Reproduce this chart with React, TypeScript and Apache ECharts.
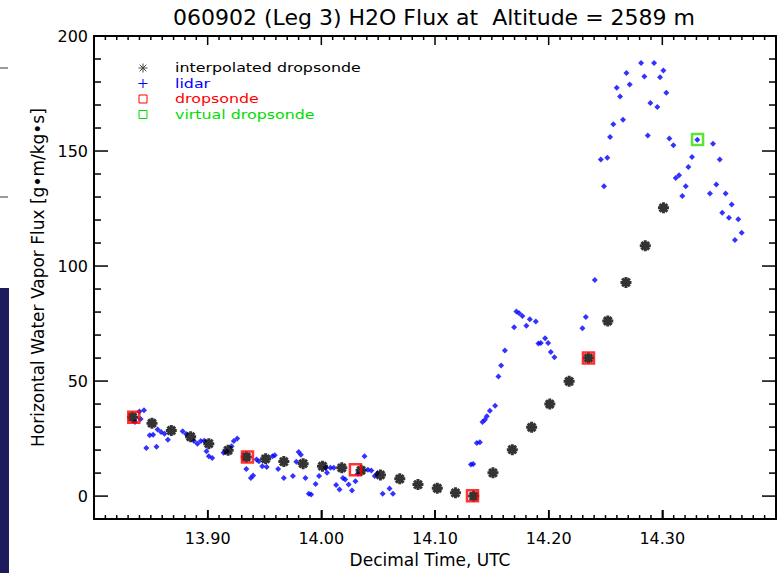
import React, { useEffect, useRef } from "react";
import * as echarts from "echarts";

const FONT = "DejaVu Sans";

// interpolated dropsonde (black asterisks)
const interpTime = [13.834, 13.851, 13.868, 13.885, 13.901, 13.918, 13.934, 13.951, 13.967, 13.984, 14.001, 14.018, 14.035, 14.052, 14.069, 14.085, 14.102, 14.118, 14.134, 14.151, 14.168, 14.185, 14.201, 14.218, 14.235, 14.252, 14.268, 14.285, 14.301];
const interpFlux = [34.3, 31.7, 28.5, 25.8, 22.8, 19.9, 17.0, 16.2, 15.0, 14.1, 13.0, 12.3, 11.2, 9.2, 7.5, 5.0, 3.4, 1.4, 0.0, 10.1, 20.2, 29.9, 40.0, 49.9, 60.0, 76.1, 92.9, 108.8, 125.3];

// lidar (blue)
const lidarTime = [
  13.836, 13.840, 13.841, 13.844, 13.846, 13.849, 13.852, 13.855, 13.856, 13.859, 13.862, 13.865, 13.878, 13.881, 13.888, 13.891, 13.894, 13.897, 13.899, 13.901, 13.904, 13.914, 13.917, 13.921, 13.923, 13.926,
  13.934, 13.938, 13.940, 13.943, 13.945, 13.948, 13.952, 13.957, 13.959, 13.962, 13.967, 13.975, 13.978, 13.980, 13.982, 13.986, 13.989, 13.991, 13.995, 13.998,
  14.004, 14.005, 14.008, 14.011, 14.013, 14.016, 14.019, 14.021, 14.024, 14.027, 14.030, 14.032, 14.038, 14.041, 14.044, 14.047, 14.049, 14.054, 14.060, 14.063,
  14.1316, 14.1336, 14.1368, 14.1395, 14.1418, 14.1439, 14.1456, 14.1483, 14.1529, 14.1558, 14.1582, 14.1615, 14.1696, 14.1716, 14.1740, 14.1769, 14.1804, 14.1834, 14.1887, 14.1910, 14.1931, 14.1969, 14.1995, 14.2019, 14.2051, 14.2297, 14.2327, 14.2406,
  14.2459, 14.2487, 14.2516, 14.2540, 14.2569, 14.2599, 14.2628, 14.2654, 14.2684, 14.2713, 14.2813, 14.2842, 14.2872, 14.2895, 14.2927, 14.2956, 14.2980, 14.3009, 14.3035, 14.3062, 14.3097, 14.3118, 14.3147, 14.3176, 14.3206, 14.3229, 14.3261, 14.3308,
  14.3419, 14.3446, 14.3475, 14.3505, 14.3527, 14.3557, 14.3586, 14.3610, 14.3639, 14.3668, 14.3698,
];
const lidarFlux = [
  32.2, 36.8, 33.5, 37.3, 20.9, 26.5, 26.7, 21.4, 28.9, 27.9, 27.1, 24.5, 28.2, 27.0, 23.9, 22.7, 23.9, 24.1, 19.5, 17.3, 16.6, 18.8, 19.5, 21.7, 23.9, 25.0,
  11.8, 7.9, 8.9, 15.9, 15.2, 13.0, 12.6, 17.3, 17.8, 11.8, 7.9, 8.7, 14.9, 19.2, 18.0, 7.9, 1.0, 0.7, 5.3, 8.7,
  12.3, 10.1, 12.3, 12.3, 4.8, 2.9, 7.9, 7.2, 5.0, 2.4, 6.5, 9.7, 17.3, 11.5, 11.1, 8.7, 9.7, 1.0, 3.3, 1.0,
  13.7, 14.0, 23.1, 23.4, 32.2, 33.2, 34.7, 37.1, 39.3, 52.0, 56.8, 63.3, 73.4, 80.2, 79.5, 78.3, 74.0, 76.9, 75.9, 66.3, 66.5, 68.6, 66.5, 62.6, 60.4, 73.0, 77.8, 93.9,
  146.3, 134.7, 147.1, 156.1, 161.6, 177.5, 173.7, 163.6, 183.9, 178.9, 188.3, 182.4, 156.8, 170.9, 188.3, 169.1, 182.1, 185.0, 175.3, 155.4, 152.5, 138.3, 139.5, 130.5, 134.7, 143.1, 147.4, 154.9,
  131.5, 153.2, 135.4, 146.3, 123.2, 131.5, 121.0, 126.8, 111.3, 120.3, 114.5,
];

// dropsonde (red squares)
const dropTime = [13.835, 13.935, 14.030, 14.133, 14.235];
const dropFlux = [34.3, 17.0, 11.5, 0.2, 60.0];

// virtual dropsonde (green square)
const virtualTime = [14.331];
const virtualFlux = [155.0];

// axes
const X_MIN = 13.8;
const X_MAX = 14.4;
const X_MAJOR = 0.1;
const X_MINOR = 0.01;
const Y_MIN = -10;
const Y_MAX = 200;
const Y_MINOR = 10;
const yMajorTicks = [0, 50, 100, 150, 200];

const legendNames = ["interpolated dropsonde", "lidar", "dropsonde", "virtual dropsonde"];
const legendColors = ["#000000", "#0000ff", "#ff0000", "#00dd00"];

const ASTERISK = "path://M0,5L10,5M5,0L5,10M1.5,1.5L8.5,8.5M8.5,1.5L1.5,8.5";
const SQUARE = "path://M0,0L10,0L10,10L0,10Z";

const zip = (a: number[], b: number[]) => a.map((v, i) => [v, b[i]]);

const GRID = { left: 94, right: 6, top: 36, bottom: 51 };
const W = 782;
const H = 573;

function seg(x1: number, y1: number, x2: number, y2: number, stroke: string, lineWidth: number) {
  return { type: "line", shape: { x1, y1, x2, y2 }, style: { stroke, lineWidth } };
}

function baseGraphics() {
  const out: any[] = [
    { type: "rect", shape: { x: 0, y: 288, width: 9, height: 285 }, style: { fill: "#1d1a5e" } },
    seg(0, 68, 8, 68, "#9a9a9a", 2),
    seg(0, 197, 8, 197, "#9a9a9a", 2),
  ];
  const cx = 143;
  const tx = 175;
  const rows = [68, 83.5, 99, 114.5];
  legendNames.forEach((name, i) => {
    const cy = rows[i];
    const s = 4.5;
    if (i === 0) {
      out.push(seg(cx - s, cy, cx + s, cy, "#444", 1));
      out.push(seg(cx, cy - s, cx, cy + s, "#444", 1));
      out.push(seg(cx - 3.3, cy - 3.3, cx + 3.3, cy + 3.3, "#444", 1));
      out.push(seg(cx - 3.3, cy + 3.3, cx + 3.3, cy - 3.3, "#444", 1));
    } else if (i === 1) {
      out.push(seg(cx - s, cy, cx + s, cy, legendColors[i], 1));
      out.push(seg(cx, cy - s, cx, cy + s, legendColors[i], 1));
    } else {
      out.push({ type: "rect", shape: { x: cx - 4, y: cy - 4, width: 8, height: 8 }, style: { fill: "none", stroke: legendColors[i], lineWidth: 1 } });
    }
    out.push({
      type: "text",
      x: tx,
      y: cy,
      scaleX: 1.22,
      style: { text: name, fill: legendColors[i], fontSize: 13, fontFamily: FONT, verticalAlign: "middle" },
    });
  });
  return out;
}

// inward box ticks, placed through the chart's own scales
function tickGraphics(chart: any) {
  const out: any[] = [];
  const toPx = (x: number, y: number) => chart.convertToPixel({ gridIndex: 0 }, [x, y]);
  const perMajor = Math.round(X_MAJOR / X_MINOR);
  const nx = Math.round((X_MAX - X_MIN) / X_MINOR);
  for (let i = 0; i <= nx; i++) {
    const v = X_MIN + i * X_MINOR;
    const len = i % perMajor === 0 ? 9 : 4;
    const p = toPx(v, Y_MIN);
    const q = toPx(v, Y_MAX);
    out.push(seg(p[0], p[1], p[0], p[1] - len, "#000", 1.5));
    out.push(seg(q[0], q[1], q[0], q[1] + len, "#000", 1.5));
  }
  const ny = Math.round((Y_MAX - Y_MIN) / Y_MINOR);
  for (let i = 0; i <= ny; i++) {
    const v = Y_MIN + i * Y_MINOR;
    const len = yMajorTicks.includes(v) ? 14 : 7;
    const p = toPx(X_MIN, v);
    const q = toPx(X_MAX, v);
    out.push(seg(p[0], p[1], p[0] + len, p[1], "#000", 1.5));
    out.push(seg(q[0], q[1], q[0] - len, q[1], "#000", 1.5));
  }
  return out;
}

export default function App() {
  const ref = useRef<HTMLDivElement>(null);
  useEffect(() => {
    document.body.style.margin = "0";
    const chart = echarts.init(ref.current!, undefined, { renderer: "svg" });
    const frameLine = () => ({ show: true, onZero: false, lineStyle: { color: "#000", width: 2 } });

    chart.setOption({
      animation: false,
      backgroundColor: "#fff",
      title: {
        text: "060902 (Leg 3) H2O Flux at  Altitude = 2589 m",
        left: 434,
        top: 6,
        textAlign: "center",
        padding: 0,
        textStyle: { fontSize: 22, fontWeight: "normal", color: "#000", fontFamily: FONT },
      },
      grid: { ...GRID, show: false },
      xAxis: [
        {
          type: "value",
          min: X_MIN,
          max: X_MAX,
          interval: X_MAJOR,
          position: "bottom",
          axisLine: frameLine(),
          axisTick: { show: true, inside: true, length: 9, lineStyle: { color: "#000", width: 1.5 } },
          splitLine: { show: false },
          axisLabel: {
            formatter: (v: number) => v.toFixed(2),
            showMinLabel: false,
            showMaxLabel: false,
            color: "#000",
            fontSize: 16,
            margin: 11,
            fontFamily: FONT,
          },
          name: "Decimal Time, UTC",
          nameLocation: "middle",
          nameGap: 31,
          nameTextStyle: { fontSize: 17, color: "#000", fontFamily: FONT, padding: [0, 10, 0, 0] },
        },
        {
          type: "value",
          min: X_MIN,
          max: X_MAX,
          interval: X_MAJOR,
          position: "top",
          axisLine: frameLine(),
          axisTick: { show: false },
          splitLine: { show: false },
          axisLabel: { show: false },
        },
      ],
      yAxis: [
        {
          type: "value",
          min: Y_MIN,
          max: Y_MAX,
          position: "left",
          axisLine: frameLine(),
          axisTick: { show: false },
          splitLine: { show: false },
          axisLabel: { show: true, customValues: yMajorTicks, color: "#000", fontSize: 16, margin: 6, fontFamily: FONT },
          name: "Horizontal Water Vapor Flux [g•m/kg•s]",
          nameLocation: "middle",
          nameGap: 48,
          nameRotate: 90,
          nameTextStyle: { fontSize: 17, color: "#000", fontFamily: FONT },
        },
        {
          type: "value",
          min: Y_MIN,
          max: Y_MAX,
          position: "right",
          axisLine: frameLine(),
          axisTick: { show: false },
          splitLine: { show: false },
          axisLabel: { show: false },
        },
      ],
      series: [
        {
          name: legendNames[1],
          type: "scatter",
          data: zip(lidarTime, lidarFlux),
          symbol: "diamond",
          symbolSize: 6,
          itemStyle: { color: "#0000ff" },
          z: 2,
        },
        {
          name: legendNames[0],
          type: "scatter",
          data: zip(interpTime, interpFlux),
          symbol: ASTERISK,
          symbolSize: 11,
          itemStyle: { color: "#000", borderColor: "#000", borderWidth: 3 },
          z: 3,
        },
        {
          name: legendNames[2],
          type: "scatter",
          data: zip(dropTime, dropFlux),
          symbol: SQUARE,
          symbolSize: 11,
          itemStyle: { color: "rgba(0,0,0,0)", borderColor: "#ff0000", borderWidth: 2.5 },
          z: 4,
        },
        {
          name: legendNames[3],
          type: "scatter",
          data: zip(virtualTime, virtualFlux),
          symbol: SQUARE,
          symbolSize: 11,
          itemStyle: { color: "rgba(0,0,0,0)", borderColor: "#33dd00", borderWidth: 2.5 },
          z: 4,
        },
      ],
    });
    chart.setOption({ graphic: [...baseGraphics(), ...tickGraphics(chart)] });
    return () => chart.dispose();
  }, []);
  return <div ref={ref} style={{ width: W, height: H }} />;
}
